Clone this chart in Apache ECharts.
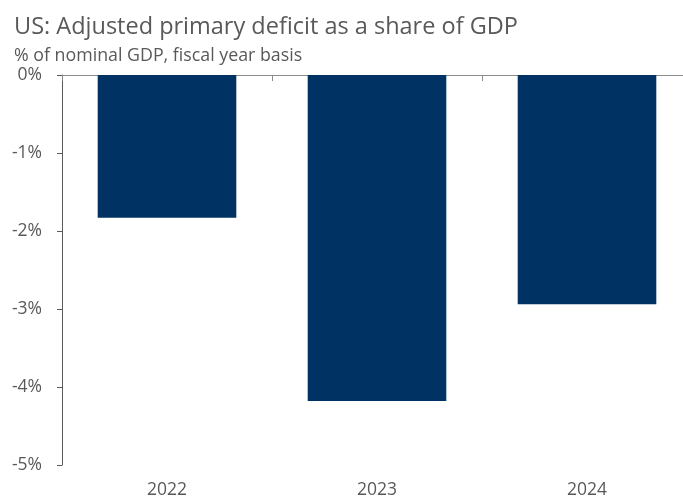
<!DOCTYPE html>
<html>
<head>
<meta charset="utf-8">
<script src="https://cdn.jsdelivr.net/npm/echarts@6/dist/echarts.min.js"></script>
<style>
  html, body { margin: 0; padding: 0; background: #fff; overflow: hidden; }
  /* plot area runs a little past the right edge of the window, as in the source */
  #chart { width: 692px; height: 499px; }
</style>
</head>
<body>
<div id="chart"></div>
<script>
const years = ['2022', '2023', '2024']
const deficit = [-1.83, -4.18, -2.94]
const yTicks = { min: -5, max: 0, interval: 1 }

const textColor = '#595959'
const fontFamily = '"Open Sans", "Noto Sans", sans-serif'

const chart = echarts.init(document.getElementById('chart'))
chart.setOption({
  animation: false,
  textStyle: { fontFamily: fontFamily },
  title: {
    text: 'US: Adjusted primary deficit as a share of GDP',
    subtext: '% of nominal GDP, fiscal year basis',
    left: 9,
    top: 10,
    itemGap: 8,
    textStyle: { color: textColor, fontSize: 23.5, fontWeight: 'normal', fontFamily: fontFamily },
    subtextStyle: { color: textColor, fontSize: 17.8, fontFamily: fontFamily }
  },
  grid: { left: 62, right: 0, top: 75, bottom: 34, containLabel: false },
  xAxis: [
    {
      type: 'category',
      data: years,
      position: 'bottom',
      axisLine: { show: false },
      axisTick: { show: false },
      axisLabel: { color: textColor, fontSize: 17.5, margin: 16 }
    },
    {
      type: 'category',
      data: years,
      position: 'top',
      axisLine: { show: true, lineStyle: { color: '#8c8c8c', width: 1 } },
      axisTick: { show: true, inside: true, length: 6, lineStyle: { color: '#8c8c8c' } },
      axisLabel: { show: false }
    }
  ],
  yAxis: {
    type: 'value',
    min: yTicks.min,
    max: yTicks.max,
    interval: yTicks.interval,
    axisLine: { show: true, lineStyle: { color: textColor } },
    axisTick: { show: true, length: 5, lineStyle: { color: textColor } },
    splitLine: { show: false },
    axisLabel: { color: textColor, fontSize: 17.5, margin: 20, formatter: '{value}%' }
  },
  series: [
    {
      type: 'bar',
      xAxisIndex: 0,
      data: deficit,
      barCategoryGap: '34%',
      itemStyle: { color: '#003263' }
    }
  ]
})
</script>
</body>
</html>
